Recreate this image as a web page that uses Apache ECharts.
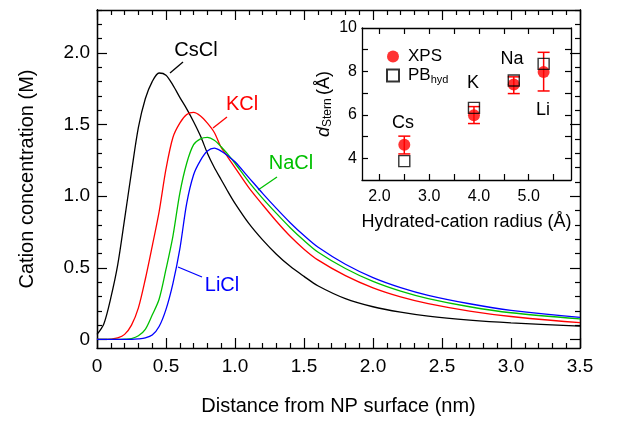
<!DOCTYPE html>
<html>
<head>
<meta charset="utf-8">
<script src="https://cdn.jsdelivr.net/npm/echarts@6/dist/echarts.min.js"></script>
<style>
  html, body { margin: 0; padding: 0; background: #fff; }
  #chart { width: 621px; height: 421px; }
</style>
</head>
<body>
<div id="chart"></div>
<script>
// 主图数据: 距离 (nm) 与各阳离子浓度 (M)
const distance = [0, 0.05, 0.1, 0.15, 0.2, 0.25, 0.3, 0.35, 0.4, 0.45, 0.5, 0.55, 0.6, 0.65, 0.7, 0.75, 0.8, 0.85, 0.9, 0.95, 1.0, 1.1, 1.2, 1.3, 1.4, 1.5, 1.6, 1.8, 2.0, 2.2, 2.4, 2.7, 3.0, 3.5];
const cscl = [0.035, 0.11, 0.29, 0.52, 0.84, 1.17, 1.48, 1.68, 1.80, 1.86, 1.845, 1.775, 1.69, 1.61, 1.52, 1.42, 1.30, 1.20, 1.115, 1.03, 0.95, 0.81, 0.695, 0.595, 0.51, 0.44, 0.375, 0.285, 0.228, 0.19, 0.162, 0.135, 0.116, 0.093];
const kcl  = [0, 0, 0.002, 0.01, 0.035, 0.10, 0.22, 0.42, 0.65, 0.89, 1.19, 1.41, 1.51, 1.57, 1.585, 1.56, 1.51, 1.445, 1.34, 1.27, 1.20, 1.06, 0.94, 0.825, 0.72, 0.63, 0.555, 0.445, 0.36, 0.297, 0.25, 0.198, 0.16, 0.117];
const nacl = [0, 0, 0, 0, 0.002, 0.006, 0.025, 0.07, 0.17, 0.28, 0.49, 0.72, 1.02, 1.23, 1.36, 1.40, 1.41, 1.39, 1.345, 1.29, 1.23, 1.10, 0.985, 0.88, 0.78, 0.69, 0.61, 0.495, 0.405, 0.337, 0.285, 0.228, 0.186, 0.143];
const licl = [0, 0, 0, 0, 0, 0, 0.003, 0.01, 0.03, 0.09, 0.21, 0.39, 0.63, 0.95, 1.15, 1.25, 1.315, 1.335, 1.315, 1.28, 1.24, 1.13, 1.02, 0.915, 0.815, 0.725, 0.645, 0.525, 0.432, 0.362, 0.308, 0.249, 0.203, 0.154];

// 插图数据: 水合阳离子半径 (Å) 与 Stern 层厚度 (Å)
const ions = ['Cs', 'K', 'Na', 'Li'];
const radius = [2.5, 3.9, 4.7, 5.3];
const xps = [4.62, 5.98, 7.4, 7.97];
const xpsLow = [4.2, 5.6, 6.98, 7.1];
const xpsHigh = [5.02, 6.38, 7.75, 8.88];
const pbHyd = [3.87, 6.32, 7.58, 8.35];

// 刻度
const mainYLabels = [0, 0.5, 1.0, 1.5, 2.0];
const mainYMinor = [];
for (let i = 1; i <= 23; i++) { if (i % 5 !== 0) mainYMinor.push(i / 10); }
const insetXLabels = [2, 3, 4, 5];
const insetXTicks = [2, 2.5, 3, 3.5, 4, 4.5, 5, 5.5];
const insetYLabels = [4, 6, 8, 10];
const insetYTicks = [4, 5, 6, 7, 8, 9];

const FONT = 'Liberation Sans, Arial, Helvetica, sans-serif';
const pair = (xs, ys) => xs.map((x, i) => [x, ys[i]]);
const fmt = v => (v === 0 ? '0' : v.toFixed(1));

const chart = echarts.init(document.getElementById('chart'));

function axLine() {
  return { show: true, onZero: false, lineStyle: { color: '#000', width: 1.3 } };
}

function yAxisOf(grid, pos, min, max, ticks, len, labels, extra) {
  return Object.assign({
    type: 'value', gridIndex: grid, position: pos, min: min, max: max,
    axisLine: axLine(),
    axisTick: { show: true, inside: true, length: len, customValues: ticks, lineStyle: { color: '#000', width: 1.2 } },
    axisLabel: labels ? { show: true, customValues: labels, color: '#000', fontFamily: FONT } : { show: false },
    splitLine: { show: false }
  }, extra || {});
}

const option = {
  animation: false,
  backgroundColor: '#fff',
  grid: [
    { left: 97, top: 10, right: 41, bottom: 71 },
    { left: 362, top: 28, width: 209, height: 152 }
  ],
  xAxis: [
    {
      type: 'value', gridIndex: 0, position: 'bottom', min: 0, max: 3.5, interval: 0.5,
      axisLine: axLine(),
      axisTick: { show: true, inside: true, length: 10, lineStyle: { color: '#000', width: 1.2 } },
      minorTick: { show: true, splitNumber: 5, length: 5, lineStyle: { color: '#000', width: 1.2 } },
      axisLabel: { color: '#000', fontSize: 19, fontFamily: FONT, margin: 9, formatter: fmt },
      splitLine: { show: false }, minorSplitLine: { show: false },
      name: 'Distance from NP surface (nm)', nameLocation: 'middle', nameGap: 48,
      nameTextStyle: { color: '#000', fontSize: 20, fontFamily: FONT }
    },
    {
      type: 'value', gridIndex: 0, position: 'top', min: 0, max: 3.5, interval: 0.5,
      axisLine: axLine(),
      axisTick: { show: true, inside: true, length: 10, lineStyle: { color: '#000', width: 1.2 } },
      minorTick: { show: true, splitNumber: 5, length: 5, lineStyle: { color: '#000', width: 1.2 } },
      axisLabel: { show: false }, splitLine: { show: false }
    },
    {
      type: 'value', gridIndex: 1, position: 'bottom', min: 1.65, max: 5.85,
      axisLine: axLine(),
      axisTick: { show: true, inside: true, length: 6, customValues: insetXTicks, lineStyle: { color: '#000', width: 1.2 } },
      axisLabel: { customValues: insetXLabels, color: '#000', fontSize: 16, fontFamily: FONT, margin: 9, formatter: v => v.toFixed(1) },
      splitLine: { show: false },
      name: 'Hydrated-cation radius (Å)', nameLocation: 'middle', nameGap: 33,
      nameTextStyle: { color: '#000', fontSize: 18, fontFamily: FONT }
    },
    {
      type: 'value', gridIndex: 1, position: 'top', min: 1.65, max: 5.85,
      axisLine: axLine(),
      axisTick: { show: true, inside: true, length: 6, customValues: insetXTicks, lineStyle: { color: '#000', width: 1.2 } },
      axisLabel: { show: false }, splitLine: { show: false }
    }
  ],
  yAxis: [
    yAxisOf(0, 'left', -0.06, 2.3, mainYLabels, 10, mainYLabels, {
      name: 'Cation concentration (M)', nameLocation: 'middle', nameGap: 60,
      nameTextStyle: { color: '#000', fontSize: 20, fontFamily: FONT }
    }),
    yAxisOf(0, 'left', -0.06, 2.3, mainYMinor, 5, null),
    yAxisOf(0, 'right', -0.06, 2.3, mainYLabels, 10, null),
    yAxisOf(0, 'right', -0.06, 2.3, mainYMinor, 5, null),
    yAxisOf(1, 'left', 3, 10, insetYTicks, 6, insetYLabels, {
      name: '{d|d}{s|Stern} {n|(Å)}', nameLocation: 'middle', nameGap: 28,
      nameTextStyle: {
        color: '#000', fontFamily: FONT,
        rich: {
          d: { fontSize: 18, fontStyle: 'italic', fontFamily: FONT },
          s: { fontSize: 12, fontFamily: FONT, padding: [8, 0, 0, 0] },
          n: { fontSize: 18, fontFamily: FONT }
        }
      }
    }),
    yAxisOf(1, 'right', 3, 10, insetYTicks, 6, null)
  ],
  legend: {
    left: 381, top: 43, orient: 'vertical', itemWidth: 12, itemHeight: 12, itemGap: 2,
    data: [{ name: 'XPS', icon: 'circle' }, { name: 'PB_hyd', icon: 'rect' }],
    formatter: n => (n === 'PB_hyd' ? '{n|PB}{s|hyd}' : '{n|' + n + '}'),
    textStyle: {
      color: '#000', fontFamily: FONT,
      rich: {
        n: { fontSize: 17, fontFamily: FONT, padding: [0, 0, 0, 4] },
        s: { fontSize: 11, fontFamily: FONT, padding: [8, 0, 0, 0] }
      }
    }
  },
  series: [
    { name: 'CsCl', type: 'line', xAxisIndex: 0, yAxisIndex: 0, data: pair(distance, cscl), showSymbol: false, smooth: 0.3, lineStyle: { color: '#000', width: 1.3 } },
    { name: 'KCl', type: 'line', xAxisIndex: 0, yAxisIndex: 0, data: pair(distance, kcl), showSymbol: false, smooth: 0.3, lineStyle: { color: '#ff0000', width: 1.3 } },
    { name: 'NaCl', type: 'line', xAxisIndex: 0, yAxisIndex: 0, data: pair(distance, nacl), showSymbol: false, smooth: 0.3, lineStyle: { color: '#00c000', width: 1.3 } },
    { name: 'LiCl', type: 'line', xAxisIndex: 0, yAxisIndex: 0, data: pair(distance, licl), showSymbol: false, smooth: 0.3, lineStyle: { color: '#0000ff', width: 1.3 } },
    {
      name: 'errXPS', type: 'custom', xAxisIndex: 2, yAxisIndex: 4,
      data: radius.map((r, i) => [r, xpsLow[i], xpsHigh[i]]),
      renderItem: function (params, api) {
        const lo = api.coord([api.value(0), api.value(1)]);
        const hi = api.coord([api.value(0), api.value(2)]);
        const w = 6;
        const st = { stroke: '#ff0000', lineWidth: 1.5 };
        return {
          type: 'group', children: [
            { type: 'line', shape: { x1: lo[0], y1: lo[1], x2: hi[0], y2: hi[1] }, style: st },
            { type: 'line', shape: { x1: lo[0] - w, y1: lo[1], x2: lo[0] + w, y2: lo[1] }, style: st },
            { type: 'line', shape: { x1: hi[0] - w, y1: hi[1], x2: hi[0] + w, y2: hi[1] }, style: st }
          ]
        };
      }
    },
    { name: 'XPS', type: 'scatter', xAxisIndex: 2, yAxisIndex: 4, data: pair(radius, xps), symbol: 'circle', symbolSize: 12, itemStyle: { color: '#ff0000' } },
    { name: 'PB_hyd', type: 'scatter', xAxisIndex: 2, yAxisIndex: 4, data: pair(radius, pbHyd), symbol: 'rect', symbolSize: 11, itemStyle: { color: 'rgba(0,0,0,0)', borderColor: '#000', borderWidth: 1.4 } }
  ],
  graphic: [
    // 曲线标注
    { type: 'line', shape: { x1: 170, y1: 73, x2: 183, y2: 62 }, style: { stroke: '#000', lineWidth: 1.3 } },
    { type: 'text', x: 196, y: 50, style: { text: 'CsCl', fill: '#000', font: '20px ' + FONT, align: 'center', verticalAlign: 'middle' } },
    { type: 'line', shape: { x1: 213, y1: 128, x2: 227, y2: 117 }, style: { stroke: '#ff0000', lineWidth: 1.3 } },
    { type: 'text', x: 242, y: 104, style: { text: 'KCl', fill: '#ff0000', font: '20px ' + FONT, align: 'center', verticalAlign: 'middle' } },
    { type: 'line', shape: { x1: 258, y1: 190, x2: 277, y2: 177 }, style: { stroke: '#00c000', lineWidth: 1.3 } },
    { type: 'text', x: 291, y: 163, style: { text: 'NaCl', fill: '#00c000', font: '20px ' + FONT, align: 'center', verticalAlign: 'middle' } },
    { type: 'line', shape: { x1: 178, y1: 267, x2: 202, y2: 277 }, style: { stroke: '#0000ff', lineWidth: 1.3 } },
    { type: 'text', x: 222, y: 285, style: { text: 'LiCl', fill: '#0000ff', font: '20px ' + FONT, align: 'center', verticalAlign: 'middle' } },
    // 插图离子标注
    { type: 'text', x: 403, y: 123, style: { text: ions[0], fill: '#000', font: '18px ' + FONT, align: 'center', verticalAlign: 'middle' } },
    { type: 'text', x: 473, y: 83, style: { text: ions[1], fill: '#000', font: '18px ' + FONT, align: 'center', verticalAlign: 'middle' } },
    { type: 'text', x: 512, y: 59, style: { text: ions[2], fill: '#000', font: '18px ' + FONT, align: 'center', verticalAlign: 'middle' } },
    { type: 'text', x: 543, y: 110, style: { text: ions[3], fill: '#000', font: '18px ' + FONT, align: 'center', verticalAlign: 'middle' } }
  ]
};

// 主 y 轴刻度字号
option.yAxis[0].axisLabel.fontSize = 19;
option.yAxis[0].axisLabel.margin = 7;
option.yAxis[0].axisLabel.formatter = fmt;
option.yAxis[4].axisLabel.fontSize = 16;
option.yAxis[4].axisLabel.margin = 5;

chart.setOption(option);
</script>
</body>
</html>
